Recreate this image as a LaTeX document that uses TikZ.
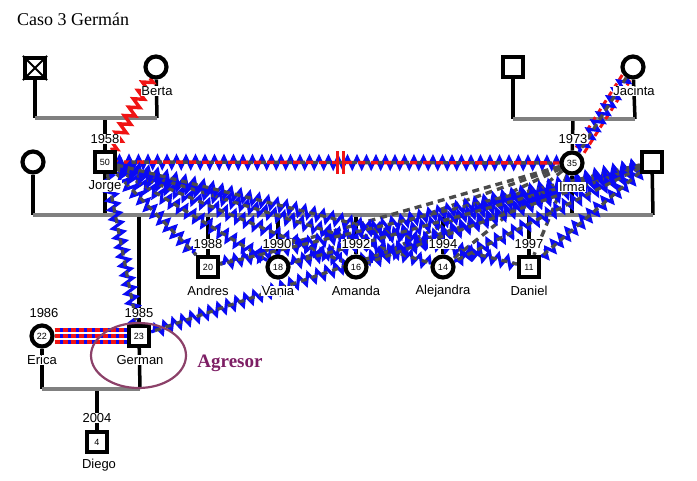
\documentclass[tikz,border=0pt]{standalone}
\usepackage{fontspec}
\setmainfont{Liberation Sans}
\newfontfamily\tnr{Liberation Serif}
\usetikzlibrary{decorations.pathmorphing}
\pgfdeclarelayer{genl}
\pgfdeclarelayer{rel}
\pgfsetlayers{genl,rel,main}
\definecolor{zblue}{RGB}{10,10,245}
\definecolor{zred}{RGB}{240,20,20}
\definecolor{dgray}{RGB}{75,75,75}
\definecolor{lgray}{RGB}{128,128,128}
\definecolor{agr}{RGB}{125,30,100}
\definecolor{ellc}{RGB}{140,65,105}
\begin{document}
\begin{tikzpicture}[x=1pt,y=-1pt,
  male/.style={draw=black, fill=white, line width=4.2pt, minimum size=20pt, inner sep=0pt, font=\fontsize{9}{9}\selectfont},
  female/.style={circle, draw=black, fill=white, line width=4.2pt, minimum size=21pt, inner sep=0pt, font=\fontsize{9}{9}\selectfont},
  lbl/.style={fill=white, inner sep=0.6pt, font=\fontsize{13}{13}\selectfont},
  desc/.style={line width=3.5pt, draw=black},
  couple/.style={line width=4.5pt, draw=lgray},
  zz/.style={decorate, decoration={zigzag, amplitude=5pt, segment length=9.5pt}},
  conf/.style={preaction={draw=zblue, line width=3.2pt, zz}, draw=dgray, line width=3.2pt, dash pattern=on 6pt off 5pt},
  gd/.style={draw=dgray, line width=3.4pt, dash pattern=on 7pt off 5pt},
  redzz/.style={draw=zred, line width=3.4pt, zz},
  hostile/.style={preaction={draw=zblue, line width=3.2pt, zz}, draw=dgray, line width=3.4pt, dash pattern=on 6pt off 7pt, postaction={draw=zred, line width=3.4pt, dash pattern=on 7pt off 6pt, dash phase=6pt}},
  reddash/.style={draw=zred, line width=3pt, dash pattern=on 6pt off 4pt},
  fused/.style={draw=zblue, line width=3.4pt, postaction={draw=zred, line width=3.4pt, dash pattern=on 5pt off 3pt}}
]
\useasboundingbox (0,0) rectangle (697,480);

% title
\node[anchor=west, font=\tnr\fontsize{18}{18}\selectfont, inner sep=0pt] (title) at (17,19) {Caso 3 Germán};

% persons
\node[male] (xg) at (35,68) {};
\draw[line width=2pt] (xg.north west) -- (xg.south east) (xg.north east) -- (xg.south west);
\node[female] (berta) at (156,67) {};
\node[male] (pj) at (513,67) {};
\node[female] (jac) at (633,67) {};
\node[female] (lw) at (33,162) {};
\node[male] (jorge) at (105,162) {50};
\node[female] (irma) at (572,163) {35};
\node[male] (rm) at (652,162) {};
\node[male] (andres) at (208,267) {20};
\node[female] (vania) at (278,267) {18};
\node[female] (amanda) at (356,267) {16};
\node[female] (alej) at (443,267) {14};
\node[male] (daniel) at (529,267) {11};
\node[female] (erica) at (42,336) {22};
\node[male] (german) at (139,336) {23};
\node[male] (diego) at (97,442) {4};

% coordinates of family lines
\coordinate (a1) at (35,118);
\coordinate (a2) at (157,118);
\coordinate (a3) at (105,118);
\coordinate (b1) at (513,119);
\coordinate (b2) at (635,119);
\coordinate (b3) at (573,119);
\coordinate (c1) at (33,215);
\coordinate (c2) at (105,215);
\coordinate (c3) at (572,215);
\coordinate (c4) at (653,215);
\coordinate (cg) at (139,215);
\coordinate (ca) at (208,215);
\coordinate (cv) at (278,215);
\coordinate (cm) at (356,215);
\coordinate (cl) at (443,215);
\coordinate (cd) at (529,215);
\coordinate (d1) at (42,389);
\coordinate (d2) at (140,389);
\coordinate (d3) at (97,389);

\begin{pgfonlayer}{genl}
\draw[desc] (xg) -- (a1);
\draw[desc] (berta) -- (a2);
\draw[desc] (a3) -- (jorge);
\draw[couple] (a1) -- (a2);
\draw[desc] (pj) -- (b1);
\draw[desc] (jac) -- (b2);
\draw[desc] (b3) -- (irma);
\draw[couple] (b1) -- (b2);
\draw[desc] (lw) -- (c1);
\draw[desc] (jorge) -- (c2);
\draw[desc] (irma) -- (c3);
\draw[desc] (rm) -- (c4);
\draw[desc] (cg) -- (german);
\draw[desc] (ca) -- (andres);
\draw[desc] (cv) -- (vania);
\draw[desc] (cm) -- (amanda);
\draw[desc] (cl) -- (alej);
\draw[desc] (cd) -- (daniel);
\draw[couple] (c1) -- (c4);
\draw[desc] (erica) -- (d1);
\draw[desc] (german) -- (d2);
\draw[desc] (d3) -- (diego);
\draw[couple] (d1) -- (d2);
\end{pgfonlayer}

\begin{pgfonlayer}{rel}
% Berta - Jorge
\draw[redzz] (berta) -- (jorge);
% Jacinta - Irma
\draw[reddash, transform canvas={shift={(4,2.6)}}] (jac) -- (irma);
\draw[reddash, transform canvas={shift={(-4,-2.6)}}] (jac) -- (irma);
\path[conf] (jac) -- (irma);
% Jorge - Irma
\path[hostile] (jorge) -- (irma);
\coordinate (s1t) at (337,151);
\coordinate (s1b) at (337,174);
\coordinate (s2t) at (343,151);
\coordinate (s2b) at (343,174);
\draw[zred, line width=3pt] (s1t) -- (s1b) (s2t) -- (s2b);
% Irma - children (dashed)
\foreach \c in {andres,vania,amanda,alej,daniel} \draw[gd] (irma) -- (\c);
% Jorge - children
\foreach \c in {german,andres,vania,amanda,alej,daniel} \path[conf] (jorge) -- (\c);
% right man - children
\foreach \c in {german,andres,vania,amanda,alej,daniel} \path[conf] (rm) -- (\c);
% Erica - German
\path[fused, transform canvas={yshift=6pt}] (erica) -- (german);
\path[fused] (erica) -- (german);
\path[fused, transform canvas={yshift=-6pt}] (erica) -- (german);
\end{pgfonlayer}

% ellipse around German
\draw[ellc, line width=2.2pt] (138.5,355.5) ellipse [x radius=47.5pt, y radius=32.5pt];
\node[font=\tnr\bfseries\fontsize{19}{19}\selectfont, text=agr, inner sep=0pt] (agresor) at (230,363) {Agresor};

% labels
\node[lbl] (lberta) at (157,91) {Berta};
\node[lbl] (ljac) at (634,91) {Jacinta};
\node[lbl] (y58) at (105,139) {1958};
\node[lbl] (y73) at (573,139) {1973};
\node[lbl] (ljorge) at (105,186) {Jorge};
\node[lbl] (lirma) at (572,187) {Irma};
\node[lbl] (y88) at (208,244) {1988};
\node[lbl] (y90) at (277,244) {1990};
\node[lbl] (y92) at (356,244) {1992};
\node[lbl] (y94) at (443,244) {1994};
\node[lbl] (y97) at (529,244) {1997};
\node[lbl] (landres) at (208,291) {Andres};
\node[lbl] (lvania) at (278,291) {Vania};
\node[lbl] (lamanda) at (356,291) {Amanda};
\node[lbl] (lalej) at (443,291) {Alejandra};
\node[lbl] (ldaniel) at (529,291) {Daniel};
\node[lbl] (y86) at (44,313) {1986};
\node[lbl] (y85) at (139,313) {1985};
\node[lbl] (lerica) at (42,360) {Erica};
\node[lbl] (lgerman) at (140,360) {German};
\node[lbl] (y04) at (97,418) {2004};
\node[lbl] (ldiego) at (99,465) {Diego};
\end{tikzpicture}
\end{document}
